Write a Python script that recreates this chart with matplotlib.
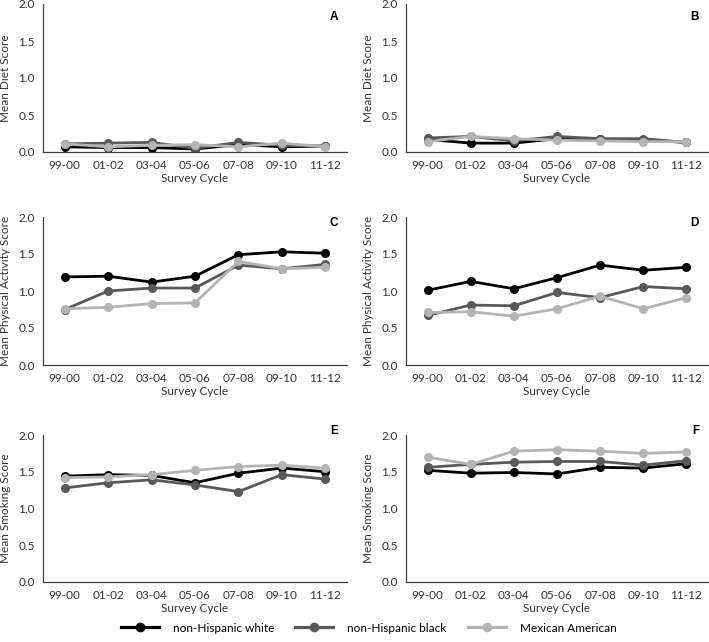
import numpy as np
import matplotlib
matplotlib.use("Agg")
import matplotlib.pyplot as plt
from matplotlib.lines import Line2D

plt.rcParams['font.family'] = ['Lato', 'DejaVu Sans']

cycles = ["99-00", "01-02", "03-04", "05-06", "07-08", "09-10", "11-12"]
groups = ["non-Hispanic white", "non-Hispanic black", "Mexican American"]
colors = ["#000000", "#595959", "#b4b4b4"]

# panel A: diet score
diet_a_white = [0.07, 0.06, 0.06, 0.04, 0.10, 0.07, 0.08]
diet_a_black = [0.11, 0.12, 0.13, 0.05, 0.13, 0.09, 0.08]
diet_a_mex = [0.11, 0.07, 0.09, 0.10, 0.07, 0.12, 0.07]

# panel B: diet score
diet_b_white = [0.17, 0.12, 0.12, 0.18, 0.17, 0.16, 0.13]
diet_b_black = [0.19, 0.21, 0.15, 0.21, 0.18, 0.18, 0.13]
diet_b_mex = [0.14, 0.21, 0.18, 0.16, 0.15, 0.14, 0.14]

# panel C: physical activity
pa_c_white = [1.19, 1.20, 1.12, 1.20, 1.49, 1.53, 1.51]
pa_c_black = [0.75, 1.00, 1.04, 1.04, 1.35, 1.30, 1.36]
pa_c_mex = [0.76, 0.78, 0.83, 0.84, 1.40, 1.30, 1.32]

# panel D: physical activity
pa_d_white = [1.01, 1.13, 1.03, 1.18, 1.35, 1.28, 1.32]
pa_d_black = [0.67, 0.81, 0.80, 0.98, 0.91, 1.06, 1.03]
pa_d_mex = [0.71, 0.72, 0.66, 0.76, 0.93, 0.76, 0.91]

# panel E: smoking
smk_e_white = [1.44, 1.46, 1.45, 1.35, 1.48, 1.55, 1.50]
smk_e_black = [1.28, 1.35, 1.39, 1.32, 1.23, 1.46, 1.40]
smk_e_mex = [1.42, 1.43, 1.46, 1.52, 1.57, 1.59, 1.55]

# panel F: smoking
smk_f_white = [1.52, 1.48, 1.49, 1.47, 1.56, 1.55, 1.61]
smk_f_black = [1.56, 1.60, 1.63, 1.64, 1.64, 1.59, 1.65]
smk_f_mex = [1.70, 1.60, 1.78, 1.80, 1.78, 1.75, 1.77]

panels = [
    ("A", "Mean Diet Score", [diet_a_white, diet_a_black, diet_a_mex]),
    ("B", "Mean Diet Score", [diet_b_white, diet_b_black, diet_b_mex]),
    ("C", "Mean Physical Activity Score", [pa_c_white, pa_c_black, pa_c_mex]),
    ("D", "Mean Physical Activity Score", [pa_d_white, pa_d_black, pa_d_mex]),
    ("E", "Mean Smoking Score", [smk_e_white, smk_e_black, smk_e_mex]),
    ("F", "Mean Smoking Score", [smk_f_white, smk_f_black, smk_f_mex]),
]

W, H = 709, 642
fig = plt.figure(figsize=(W / 100, H / 100), dpi=100)

# axes boxes in pixels: (left, right) per column, (top, bottom) per row
lefts = [43, 406]
rights = [347, 708]
rows = [(4, 152), (217, 365), (435, 582)]
letter_y = [0.95, 1.0, 1.07]

x = np.arange(len(cycles))
for i, (letter, ylab, series) in enumerate(panels):
    r, c = divmod(i, 2)
    top, bot = rows[r]
    ax = fig.add_axes([lefts[c] / W, 1 - bot / H,
                       (rights[c] - lefts[c]) / W, (bot - top) / H])
    for vals, col in zip(series, colors):
        ax.plot(x, vals, color=col, lw=2, marker="o", ms=5.5)
    ax.set_xlim(-0.5, len(cycles) - 0.5)
    ax.set_ylim(0, 2.0)
    ax.set_yticks([0, 0.5, 1.0, 1.5, 2.0])
    ax.set_yticklabels(["0.0", "0.5", "1.0", "1.5", "2.0"])
    ax.set_xticks(x)
    ax.set_xticklabels(cycles)
    ax.tick_params(length=0, labelsize=8.5, colors="#333333", pad=6)
    ax.spines["top"].set_visible(False)
    ax.spines["right"].set_visible(False)
    for s in ("left", "bottom"):
        ax.spines[s].set_color("#404040")
        ax.spines[s].set_linewidth(0.9)
    ax.set_xlabel("Survey Cycle", fontsize=8.5, color="#333333", labelpad=1)
    ax.set_ylabel(ylab, fontsize=8.5, color="#333333", labelpad=5)
    ax.text(0.97, letter_y[r], letter, transform=ax.transAxes, fontsize=8.5,
            fontweight="bold", ha="right", va="top", family="Liberation Sans")

handles = [Line2D([0], [0], color=col, lw=2.3, marker="o", ms=6) for col in colors]
fig.legend(handles, groups, loc="center", bbox_to_anchor=(0.52, 1 - 628 / H),
           ncol=3, frameon=False, fontsize=8.5, handlelength=3.2,
           columnspacing=1.8, handletextpad=1.2)

fig.savefig("out.png", dpi=100)
